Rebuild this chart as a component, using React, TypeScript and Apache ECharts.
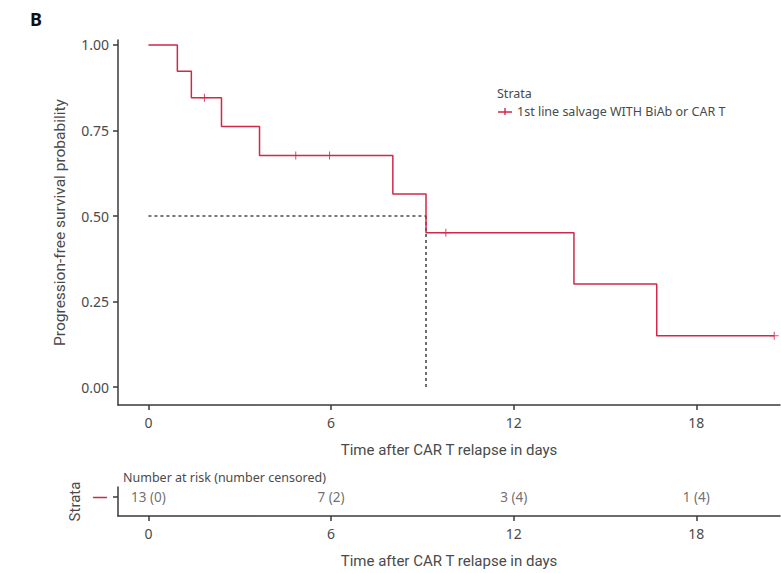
import React, { useEffect, useRef } from "react";
import * as echarts from "echarts";

// Kaplan–Meier step points (time in days, survival probability)
const eventTimes = [0, 0.95, 1.41, 2.4, 3.65, 8.03, 9.12, 13.98, 16.7, 20.56];
const survival = [1, 0.923, 0.846, 0.762, 0.677, 0.564, 0.451, 0.301, 0.15, 0.15];
// Censoring marks
const censorTimes = [1.84, 4.84, 5.95, 9.77, 20.56];
const censorSurvival = [0.846, 0.677, 0.677, 0.451, 0.15];
// Median survival
const medianTime = 9.12;
const medianSurvival = 0.5;
// Ticks
const xTicks = [0, 6, 12, 18];
const yTicks = [0, 0.25, 0.5, 0.75, 1];
// Risk table
const riskTimes = [0, 6, 12, 18];
const atRisk = [13, 7, 3, 1];
const censoredCount = [0, 2, 4, 4];
const strataLevels = [1];

const strataName = "1st line salvage WITH BiAb or CAR T";
const RED = "#d0284a";
const AXIS = "#3a3a3a";
const TXT = "#4a4a4a";
const SANS = "'Noto Sans', 'Open Sans', sans-serif";
const NARROW = "Roboto, 'Noto Sans', sans-serif";

export default function App() {
  const ref = useRef<HTMLDivElement>(null);
  useEffect(() => {
    if (!ref.current) return;
    const chart = echarts.init(ref.current, undefined, { renderer: "svg" });
    const xAxisBase = (gridIndex: number) => ({
      type: "value",
      gridIndex,
      min: -1,
      max: 20.75,
      name: "Time after CAR T relapse in days",
      nameLocation: "middle",
      nameGap: 37,
      nameTextStyle: { fontFamily: NARROW, fontSize: 15, color: TXT },
      splitLine: { show: false },
      axisLine: { show: true, onZero: false, lineStyle: { color: AXIS, width: 1.5 } },
      axisTick: { show: true, length: 5, customValues: xTicks, lineStyle: { color: AXIS, width: 1.5 } },
      axisLabel: { customValues: xTicks, margin: 10, fontFamily: SANS, fontSize: 14, color: TXT },
    });
    chart.setOption({
      animation: false,
      backgroundColor: "#ffffff",
      title: [
        { text: "B", left: 25, top: 5, textStyle: { fontFamily: SANS, fontSize: 18, fontWeight: "bold", color: "#111" } },
        { text: "Strata", left: 492, top: 82, textStyle: { fontFamily: SANS, fontSize: 12.5, fontWeight: "normal", color: TXT } },
        { text: "Number at risk (number censored)", left: 118, top: 466, textStyle: { fontFamily: SANS, fontSize: 12.5, fontWeight: "normal", color: TXT } },
      ],
      legend: {
        left: 493,
        top: 100,
        itemWidth: 14,
        itemHeight: 8,
        itemGap: 5,
        textStyle: { fontFamily: SANS, fontSize: 12.5, color: TXT },
        data: [{ name: strataName, icon: "path://M0,4.3h14v1.4h-14z M6.3,1h1.4v7h-1.4z" }],
      },
      grid: [
        { left: 118, top: 40, width: 662, height: 365 },
        { left: 118, top: 487, width: 662, height: 29 },
      ],
      xAxis: [xAxisBase(0), xAxisBase(1)],
      yAxis: [
        {
          type: "value",
          gridIndex: 0,
          min: -0.0526,
          max: 1.0146,
          name: "Progression-free survival probability",
          nameLocation: "middle",
          nameRotate: 90,
          nameGap: 50,
          nameTextStyle: { fontFamily: NARROW, fontSize: 15.5, color: TXT },
          splitLine: { show: false },
          axisLine: { show: true, onZero: false, lineStyle: { color: AXIS, width: 1.5 } },
          axisTick: { show: true, length: 5, customValues: yTicks, lineStyle: { color: AXIS, width: 1.5 } },
          axisLabel: {
            customValues: yTicks,
            margin: 9,
            fontFamily: SANS,
            fontSize: 14,
            color: TXT,
            formatter: (v: number) => v.toFixed(2),
          },
        },
        {
          type: "value",
          gridIndex: 1,
          min: 0.35,
          max: 1.35,
          name: "Strata",
          nameLocation: "middle",
          nameRotate: 90,
          nameGap: 34,
          nameTextStyle: { fontFamily: NARROW, fontSize: 15, color: TXT },
          splitLine: { show: false },
          axisLine: { show: true, onZero: false, lineStyle: { color: AXIS, width: 1.5 } },
          axisTick: { show: true, length: 5, customValues: strataLevels, lineStyle: { color: AXIS, width: 1.5 } },
          axisLabel: { customValues: strataLevels, margin: 11, fontSize: 14, fontWeight: "bold", color: RED, formatter: () => "\u2014" },
        },
      ],
      series: [
        {
          name: "medianH",
          type: "line",
          xAxisIndex: 0,
          yAxisIndex: 0,
          symbol: "none",
          silent: true,
          lineStyle: { color: "#777", width: 2, type: [3, 3] },
          data: [
            [0, medianSurvival],
            [medianTime, medianSurvival],
          ],
        },
        {
          name: "medianV",
          type: "line",
          xAxisIndex: 0,
          yAxisIndex: 0,
          symbol: "none",
          silent: true,
          lineStyle: { color: "#222", width: 1.3, type: [3, 3] },
          data: [
            [medianTime, medianSurvival],
            [medianTime, 0],
          ],
        },
        {
          name: strataName,
          type: "line",
          step: "end",
          xAxisIndex: 0,
          yAxisIndex: 0,
          symbol: "none",
          color: RED,
          lineStyle: { color: RED, width: 1.5 },
          data: eventTimes.map((t, i) => [t, survival[i]]),
        },
        {
          name: "censor",
          type: "scatter",
          xAxisIndex: 0,
          yAxisIndex: 0,
          symbol: "path://M0,4.4h10v1.2h-10z M4.4,0h1.2v10h-1.2z",
          symbolSize: [9, 8],
          itemStyle: { color: RED },
          data: censorTimes.map((t, i) => [t, censorSurvival[i]]),
        },
        {
          name: "risk",
          type: "scatter",
          xAxisIndex: 1,
          yAxisIndex: 1,
          symbolSize: 0,
          silent: true,
          label: {
            show: true,
            position: "inside",
            fontFamily: SANS,
            fontSize: 13.5,
            color: TXT,
            formatter: (p: any) => `${atRisk[p.dataIndex]} (${censoredCount[p.dataIndex]})`,
          },
          data: riskTimes.map((t) => [t, strataLevels[0]]),
        },
      ],
    });
    return () => chart.dispose();
  }, []);
  return <div ref={ref} style={{ position: "absolute", left: 0, top: 0, width: 781, height: 573 }} />;
}
